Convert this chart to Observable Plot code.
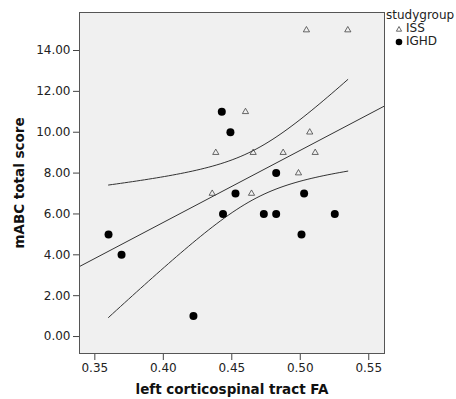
<!DOCTYPE html>
<html>
<head>
<meta charset="utf-8">
<script src="https://cdn.jsdelivr.net/npm/d3@7"></script>
<script src="https://cdn.jsdelivr.net/npm/@observablehq/plot@0.6"></script>
<style>
  body { margin: 0; background: #fff; font-family: "DejaVu Sans", sans-serif; }
  #wrap { position: relative; width: 456px; height: 399px; }
  #legend { position: absolute; left: 386px; top: 9px; font-size: 12px; color: #222; line-height: 13px; }
  #legend .row { padding-left: 9px; display: flex; align-items: center; }
  #legend svg { margin-right: 3px; }
</style>
</head>
<body>
<div id="wrap">
  <div id="chart"></div>
  <div id="legend"></div>
</div>
<script>
// studygroup ISS (open triangles)
const issFA    = [0.5045, 0.5347, 0.4600, 0.5069, 0.4383, 0.4656, 0.4875, 0.5109, 0.4987, 0.4357, 0.4644];
const issScore = [15, 15, 11, 10, 9, 9, 9, 9, 8, 7, 7];
// studygroup IGHD (filled circles)
const ighdFA    = [0.4427, 0.4490, 0.4824, 0.4527, 0.5028, 0.4436, 0.4734, 0.4824, 0.5252, 0.3600, 0.5009, 0.3695, 0.4220];
const ighdScore = [11, 10, 8, 7, 7, 6, 6, 6, 6, 5, 5, 4, 1];

const xTicks = [0.35, 0.40, 0.45, 0.50, 0.55];
const yTicks = [0, 2, 4, 6, 8, 10, 12, 14];
const xDomain = [0.3388, 0.5615];
const yDomain = [-0.83, 15.86];
const groups = ["ISS", "IGHD"];
const xTitle = "left corticospinal tract FA";
const yTitle = "mABC total score";
const legendTitle = "studygroup";

const iss = issFA.map((x, i) => ({x, y: issScore[i]}));
const ighd = ighdFA.map((x, i) => ({x, y: ighdScore[i]}));
const all = iss.concat(ighd);

// linear regression (fit line at total) with 95% mean confidence interval
const n = all.length;
const mx = d3.mean(all, d => d.x), my = d3.mean(all, d => d.y);
const sxx = d3.sum(all, d => (d.x - mx) ** 2);
const sxy = d3.sum(all, d => (d.x - mx) * (d.y - my));
const slope = sxy / sxx, intercept = my - slope * mx;
const sse = d3.sum(all, d => (d.y - intercept - slope * d.x) ** 2);
const s = Math.sqrt(sse / (n - 2));
const tcrit = 2.0739; // t(0.975, df = 22)
const [xmin, xmax] = d3.extent(all, d => d.x);
const ciPts = d3.range(0, 61).map(i => {
  const x = xmin + (xmax - xmin) * i / 60;
  const yh = intercept + slope * x;
  const h = tcrit * s * Math.sqrt(1 / n + (x - mx) ** 2 / sxx);
  return {x, lo: yh - h, hi: yh + h};
});
const fitPts = xDomain.map(x => ({x, y: intercept + slope * x}));

const chart = Plot.plot({
  width: 456,
  height: 399,
  marginLeft: 79,
  marginRight: 72,
  marginTop: 12,
  marginBottom: 46,
  style: { fontFamily: "DejaVu Sans, sans-serif", fontSize: "12px", color: "#222", background: "#fff" },
  x: { domain: xDomain, ticks: xTicks, tickFormat: d3.format(".2f"), label: null },
  y: { domain: yDomain, ticks: yTicks, tickFormat: d3.format(".2f"), label: null },
  marks: [
    Plot.frame({ fill: "#f0f0f0", stroke: "none" }),
    Plot.axisX({ ticks: xTicks, tickFormat: d3.format(".2f"), tickSize: 7, tickPadding: 3, stroke: "#444", fill: "#222", label: null }),
    Plot.axisY({ ticks: yTicks, tickFormat: d3.format(".2f"), tickSize: 6, tickPadding: 3, stroke: "#444", fill: "#222", label: null }),
    Plot.line(fitPts, { x: "x", y: "y", stroke: "#333", strokeWidth: 1, clip: true }),
    Plot.line(ciPts, { x: "x", y: "hi", stroke: "#333", strokeWidth: 1 }),
    Plot.line(ciPts, { x: "x", y: "lo", stroke: "#333", strokeWidth: 1 }),
    Plot.dot(iss, { x: "x", y: "y", symbol: "triangle", r: 2.3, stroke: "#444", strokeWidth: 0.8, fill: "none" }),
    Plot.dot(ighd, { x: "x", y: "y", symbol: "circle", r: 4, fill: "#000", stroke: "none" }),
    Plot.frame({ stroke: "#555", strokeWidth: 1 }),
    Plot.text([xTitle], { frameAnchor: "bottom", dy: 36, text: d => d, fontSize: 13.5, fontWeight: "bold", fill: "#111", lineAnchor: "middle" }),
    Plot.text([yTitle], { frameAnchor: "left", dx: -60, text: d => d, rotate: -90, textAnchor: "middle", lineAnchor: "middle", fontSize: 13.5, fontWeight: "bold", fill: "#111" })
  ]
});
document.getElementById("chart").appendChild(chart);

// legend
const legend = document.getElementById("legend");
const title = document.createElement("div");
title.textContent = legendTitle;
legend.appendChild(title);
groups.forEach(g => {
  const row = document.createElement("div");
  row.className = "row";
  const sym = g === "ISS"
    ? '<svg width="8" height="8"><path d="M4,1.5L6.6,6.2H1.4Z" fill="none" stroke="#444" stroke-width="0.8"/></svg>'
    : '<svg width="8" height="8"><circle cx="4" cy="4" r="3.3" fill="#000"/></svg>';
  row.innerHTML = sym + "<span>" + g + "</span>";
  legend.appendChild(row);
});
</script>
</body>
</html>
